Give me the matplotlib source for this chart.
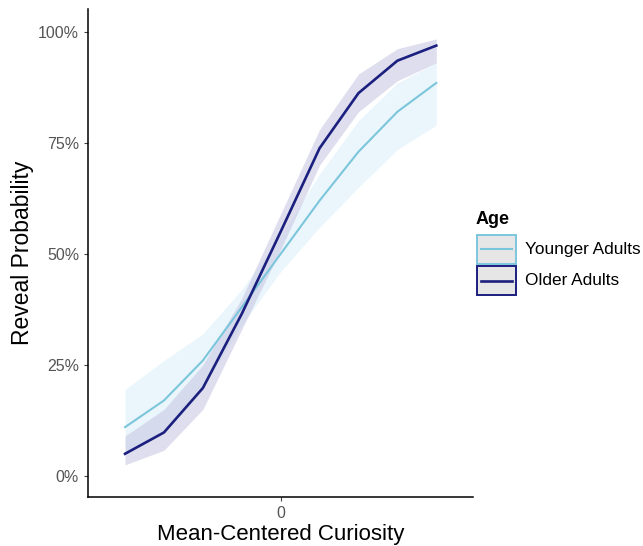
import numpy as np
import matplotlib.pyplot as plt
from matplotlib.patches import Rectangle
from matplotlib.lines import Line2D
from matplotlib.ticker import PercentFormatter

plt.rcParams['font.family'] = ['Liberation Sans', 'DejaVu Sans']

# curiosity bins (mean-centered)
curiosity = [-4, -3, -2, -1, 0, 1, 2, 3, 4]

# predicted reveal probability with confidence band, per age group
younger_fit = [0.11, 0.17, 0.26, 0.38, 0.50, 0.62, 0.73, 0.82, 0.885]
younger_lo = [0.05, 0.10, 0.20, 0.34, 0.46, 0.56, 0.65, 0.735, 0.79]
younger_hi = [0.195, 0.26, 0.32, 0.42, 0.54, 0.68, 0.80, 0.885, 0.93]

older_fit = [0.05, 0.098, 0.198, 0.365, 0.55, 0.738, 0.862, 0.935, 0.969]
older_lo = [0.025, 0.058, 0.15, 0.33, 0.51, 0.70, 0.82, 0.89, 0.93]
older_hi = [0.09, 0.15, 0.25, 0.40, 0.59, 0.78, 0.905, 0.962, 0.984]

groups = ['Younger Adults', 'Older Adults']
line_colors = ['#7cc6dc', '#1b1f7e']
line_widths = [1.5, 1.9]
band_colors = ['#d9f0fb', '#c8c8e4']
band_alpha = [0.55, 0.6]

W, H = 643, 546
fig = plt.figure(figsize=(W / 100, H / 100), dpi=100)
ax = fig.add_axes([0.137, 0.09, 0.599, 0.894])

fits = [younger_fit, older_fit]
los = [younger_lo, older_lo]
his = [younger_hi, older_hi]
for i, name in enumerate(groups):
    ax.fill_between(curiosity, los[i], his[i], color=band_colors[i],
                    alpha=band_alpha[i], lw=0, zorder=1 + i)
for i, name in enumerate(groups):
    ax.plot(curiosity, fits[i], color=line_colors[i], lw=line_widths[i],
            zorder=3 + i, label=name)

ax.set_xlim(-4.95, 4.95)
ax.set_ylim(-0.047, 1.052)
ax.set_xticks([0])
ax.set_yticks([0, 0.25, 0.5, 0.75, 1.0])
ax.yaxis.set_major_formatter(PercentFormatter(1.0, decimals=0))
ax.tick_params(labelsize=11.5, colors='#444444', length=3, width=0.8)
ax.tick_params(axis='both', labelcolor='#555555')

for side in ['top', 'right']:
    ax.spines[side].set_visible(False)
for side in ['left', 'bottom']:
    ax.spines[side].set_linewidth(1.1)
    ax.spines[side].set_color('black')

ax.set_xlabel('Mean-Centered Curiosity', fontsize=16, labelpad=2.5)
ax.set_ylabel('Reveal Probability', fontsize=16.5, labelpad=3)


# legend drawn by hand as ggplot-style keys (grey box, coloured border)
def fpos(x, y):
    return x / W, 1 - y / H


fig.text(*fpos(476, 220), 'Age', fontsize=13, fontweight='bold',
         va='center', ha='left')
key_w, key_h = 39, 29
for i, name in enumerate(groups):
    top = 235 + i * 31
    x0, y0 = fpos(477, top + key_h)
    fig.add_artist(Rectangle((x0, y0), key_w / W, key_h / H,
                             transform=fig.transFigure, facecolor='#e6e6e6',
                             edgecolor=line_colors[i], lw=1.4))
    lx0, ly = fpos(481, top + key_h / 2)
    lx1, _ = fpos(477 + key_w - 4, 0)
    fig.add_artist(Line2D([lx0, lx1], [ly, ly], transform=fig.transFigure,
                          color=line_colors[i], lw=line_widths[i]))
    fig.text(*fpos(525, top + key_h / 2), name, fontsize=12.4,
             va='center', ha='left')

fig.savefig('out.png', dpi=100)
